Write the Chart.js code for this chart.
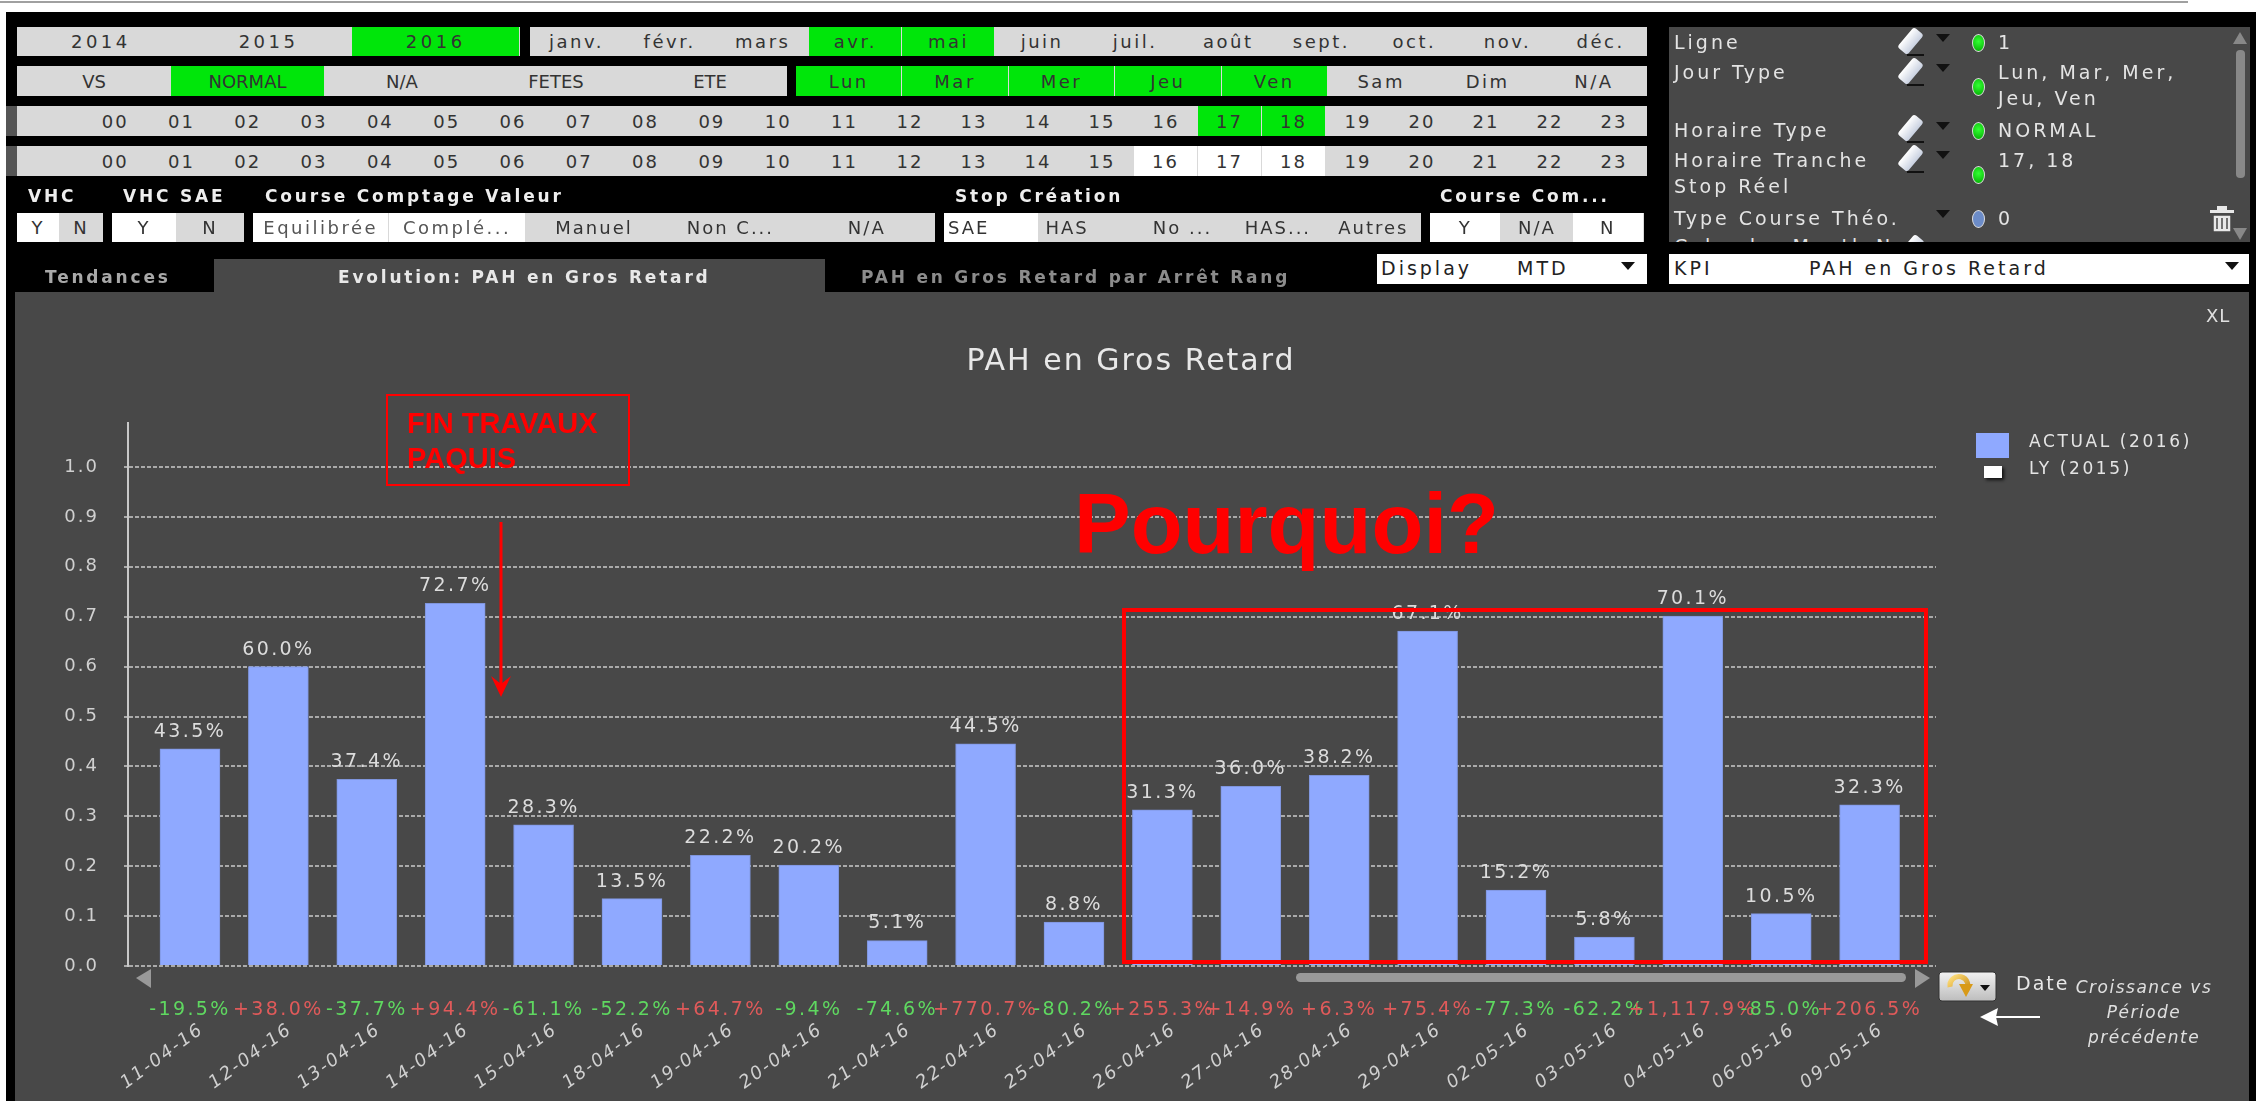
<!DOCTYPE html>
<html lang="fr">
<head>
<meta charset="utf-8">
<title>PAH en Gros Retard</title>
<style>
  html, body { margin: 0; padding: 0; background: #fff; }
  body { width: 2262px; height: 1101px; overflow: hidden; position: relative; font-family: "DejaVu Sans", sans-serif; filter: blur(0.5px); }
  #page { position: absolute; left: 6px; top: 12px; width: 2250px; height: 1089px; background: #000; }
  #topline { position: absolute; left: 0; top: 1px; width: 2188px; height: 2px; background: #a0a0a0; }
  #panel { position: absolute; left: 15px; top: 292px; width: 2234px; height: 809px; background: #484848; }
  #filters { position: absolute; left: 1669px; top: 27px; width: 581px; height: 215px; background: #484848; overflow: hidden; }
  #myChart { position: absolute; left: 0; top: 0; }
  .box { position: absolute; }
  .cell { position: absolute; display: flex; align-items: center; justify-content: center; color: #333; font-size: 18px; letter-spacing: 2px; white-space: nowrap; overflow: hidden; box-sizing: border-box; }
  .txt { position: absolute; white-space: nowrap; transform: translateY(-50%); letter-spacing: 3px; }
  svg { position: absolute; left: 0; top: 0; pointer-events: none; }
</style>
</head>
<body>
<div id="topline"></div>
<div id="page"></div>
<div id="panel"></div>
<div id="filters"></div>
<canvas id="myChart" width="2262" height="1101"></canvas>
<div id="controls"></div>
<svg width="2262" height="1101">
  <defs>
    <linearGradient id="gold" x1="0" y1="0" x2="1" y2="1"><stop offset="0" stop-color="#ffe080"/><stop offset="1" stop-color="#c88a10"/></linearGradient>
    <linearGradient id="btn" x1="0" y1="0" x2="0" y2="1"><stop offset="0" stop-color="#f2f2f2"/><stop offset="1" stop-color="#bdbdbd"/></linearGradient>
  </defs>
  <!-- annotations on top of the chart -->
  <rect x="387" y="395" width="242" height="90" fill="none" stroke="#f00" stroke-width="2"/>
  <line x1="501" y1="522" x2="501" y2="692" stroke="#f00" stroke-width="3"/>
  <path d="M491 676 L501 697 L511 676 L501 684 Z" fill="#f00"/>
  <rect x="1124" y="610" width="802" height="352" fill="none" stroke="#f00" stroke-width="4"/>
  <!-- date scrollbar -->
  <path d="M151 969 L136 978 L151 988 Z" fill="#999"/>
  <rect x="1296" y="973" width="610" height="9" rx="4.5" fill="#999"/>
  <path d="M1915 969 L1930 978 L1915 988 Z" fill="#999"/>
  <!-- refresh button -->
  <rect x="1939" y="972" width="57" height="29" rx="3" fill="url(#btn)" stroke="#333"/>
  <path d="M1950 987 a9 9 0 1 1 16 4" fill="none" stroke="url(#gold)" stroke-width="5"/>
  <path d="M1959 984 L1973 984 L1966 997 Z" fill="#d89a18"/>
  <path d="M1980 985 L1990 985 L1985 991 Z" fill="#111"/>
  <!-- white arrow to the growth row -->
  <line x1="1995" y1="1017" x2="2040" y2="1017" stroke="#fff" stroke-width="2"/>
  <path d="M1980 1017 L1998 1008 L1996 1017 L1998 1026 Z" fill="#fff"/>
  <!-- trash -->
  <rect x="2210" y="210" width="24" height="3" fill="#e8e8e8"/>
  <rect x="2217" y="206" width="10" height="4" fill="#e8e8e8"/>
  <path d="M2213 215 h18 v17 h-18 z M2217 218 v11 M2222 218 v11 M2227 218 v11" fill="#e8e8e8" stroke="#484848" stroke-width="1.5"/>
  <!-- filter scrollbar -->
  <path d="M2240 32 L2233 44 L2247 44 Z" fill="#888"/>
  <rect x="2236" y="50" width="9" height="128" rx="4" fill="#888"/>
  <path d="M2240 240 L2233 228 L2247 228 Z" fill="#888"/>
</svg>

<script src="https://cdn.jsdelivr.net/npm/chart.js@4"></script>
<script>
/* global Chart */
const dates = ['11-04-16', '12-04-16', '13-04-16', '14-04-16', '15-04-16', '18-04-16', '19-04-16',
  '20-04-16', '21-04-16', '22-04-16', '25-04-16', '26-04-16', '27-04-16', '28-04-16', '29-04-16',
  '02-05-16', '03-05-16', '04-05-16', '06-05-16', '09-05-16'];
const actualValues = [0.435, 0.600, 0.374, 0.727, 0.283, 0.135, 0.222, 0.202, 0.051, 0.445, 0.088,
  0.313, 0.360, 0.382, 0.671, 0.152, 0.058, 0.701, 0.105, 0.323];
const lyValues = [];
const growthLabels = ['-19.5%', '+38.0%', '-37.7%', '+94.4%', '-61.1%', '-52.2%', '+64.7%', '-9.4%',
  '-74.6%', '+770.7%', '-80.2%', '+255.3%', '+14.9%', '+6.3%', '+75.4%', '-77.3%', '-62.2%',
  '+1,117.9%', '-85.0%', '+206.5%'];

const years = ['2014', '2015', '2016'];
const months = ['janv.', 'févr.', 'mars', 'avr.', 'mai', 'juin', 'juil.', 'août', 'sept.', 'oct.', 'nov.', 'déc.'];
const dayTypes = ['VS', 'NORMAL', 'N/A', 'FETES', 'ETE'];
const weekDays = ['Lun', 'Mar', 'Mer', 'Jeu', 'Ven', 'Sam', 'Dim', 'N/A'];
const hours = ['00', '01', '02', '03', '04', '05', '06', '07', '08', '09', '10', '11',
  '12', '13', '14', '15', '16', '17', '18', '19', '20', '21', '22', '23'];
const courseValues = ['Equilibrée', 'Complé...', 'Manuel', 'Non C...', 'N/A'];
const stopValues = ['SAE', 'HAS', 'No ...', 'HAS...', 'Autres'];
const courseComValues = ['Y', 'N/A', 'N'];

const GREY = '#d9d9d9';
const GREEN = '#00e60a';
const WHITE = '#ffffff';
const AXISTOP = 423;
const AXISBOTTOM = 966;
const AXISLEFT = 128;
const AXISRIGHT = 1936;

const controls = document.getElementById('controls');

function addCell(label, x, y, w, h, bg, color) {
  const el = document.createElement('div');
  el.className = 'cell';
  el.style.cssText = `left:${x}px;top:${y}px;width:${w}px;height:${h}px;background:${bg};color:${color || '#333'}`;
  el.textContent = label;
  controls.appendChild(el);
  return el;
}

function addRow(labels, x, y, w, h, colorOf, spacing) {
  addCell('', x, y, labels.length * w, h, GREY);
  labels.forEach((label, i) => {
    const bg = colorOf(label, i);
    const el = addCell(label, x + i * w, y, w - (bg === GREY ? 0 : 1), h, bg);
    if (spacing !== undefined) el.style.letterSpacing = `${spacing}px`;
  });
}

function addText(text, x, y, color, opts = {}) {
  const el = document.createElement('div');
  el.className = 'txt';
  el.textContent = text;
  el.style.cssText = `left:${x}px;top:${y}px;color:${color};font-size:${opts.size || 19}px;`
    + `font-weight:${opts.bold ? 'bold' : 'normal'};font-style:${opts.italic ? 'italic' : 'normal'}`;
  if (opts.center) el.style.transform = 'translate(-50%,-50%)';
  if (opts.spacing !== undefined) el.style.letterSpacing = `${opts.spacing}px`;
  if (opts.family) el.style.fontFamily = opts.family;
  (opts.parent || controls).appendChild(el);
  return el;
}

function addHours(y, colorOf) {
  addCell('', 17, y, 1630, 30, GREY);
  addCell('', 6, y, 11, 30, '#555');
  hours.forEach((label, i) => {
    const x = i < 12 ? 82 + i * 66.3 : 878 + (i - 12) * 64;
    const w = i < 12 ? 66.3 : 64;
    const bg = colorOf(label);
    addCell(label, x, y, w - (bg === GREY ? 0 : 1), 30, bg);
  });
}

function addEraser(x, y, parent) {
  const el = document.createElement('div');
  el.className = 'box';
  el.style.cssText = `left:${x}px;top:${y - 12}px;width:13px;height:26px;border-radius:3px;transform:rotate(40deg);`
    + 'background:linear-gradient(90deg,#fff,#c8d0e0)';
  (parent || controls).appendChild(el);
  const base = document.createElement('div');
  base.className = 'box';
  base.style.cssText = `left:${x + 3}px;top:${y + 14}px;width:17px;height:2px;background:#111`;
  (parent || controls).appendChild(base);
}

function addCaret(x, y, color) {
  const el = document.createElement('div');
  el.className = 'box';
  el.style.cssText = `left:${x - 7}px;top:${y - 4}px;width:0;height:0;border-left:7px solid transparent;`
    + `border-right:7px solid transparent;border-top:8px solid ${color}`;
  controls.appendChild(el);
}

function addDot(y, color) {
  const el = document.createElement('div');
  el.className = 'box';
  el.style.cssText = `left:1972px;top:${y - 8}px;width:11px;height:16px;border-radius:50%;`
    + `background:radial-gradient(circle at 50% 40%,#3f3,${color});border:1px solid #ddd`;
  controls.appendChild(el);
}

// filter bars above the chart
addRow(years, 17, 27, 167.7, 29, (l) => (l === '2016' ? GREEN : GREY), 3.5);
addRow(months, 530, 27, 93.1, 29, (l) => (l === 'avr.' || l === 'mai' ? GREEN : GREY), 2.5);
addRow(dayTypes, 17, 66, 154, 30, (l) => (l === 'NORMAL' ? GREEN : GREY), 0);
addRow(weekDays, 796, 66, 106.4, 30, (l, i) => (i < 5 ? GREEN : GREY), 2.5);
addHours(106, (l) => (l === '17' || l === '18' ? GREEN : GREY));
addHours(146, (l) => (l === '16' || l === '17' || l === '18' ? WHITE : GREY));

const HEADING = { bold: true, size: 17, spacing: 2.8 };
addText('VHC', 28, 196, '#eee', HEADING);
addText('VHC SAE', 123, 196, '#eee', HEADING);
addText('Course Comptage Valeur', 265, 196, '#eee', HEADING);
addText('Stop Création', 955, 196, '#eee', HEADING);
addText('Course Com...', 1440, 196, '#eee', HEADING);

addCell('Y', 17, 213, 42, 29, WHITE);
addCell('N', 59, 213, 44, 29, GREY);
addCell('Y', 112, 213, 64, 29, WHITE);
addCell('N', 176, 213, 68, 29, GREY);
addRow(courseValues, 253, 213, 136.4, 29, (l, i) => (i < 2 ? WHITE : GREY));
addRow(stopValues, 944, 213, 95.4, 29, (l, i) => (i < 1 ? WHITE : GREY));
addRow(courseComValues, 1430, 213, 71.3, 29, (l) => (l === 'N/A' ? GREY : WHITE));
controls.querySelectorAll('.cell').forEach((c) => {
  if (c.textContent === 'Equilibrée' || c.textContent === 'Complé...') {
    c.style.letterSpacing = '2.5px';
    c.style.color = '#555';
  }
  if (c.textContent === 'SAE') {
    c.style.justifyContent = 'flex-start';
    c.style.paddingLeft = '4px';
  }
  if (c.textContent === 'HAS') {
    c.style.justifyContent = 'flex-start';
    c.style.paddingLeft = '6px';
  }
});

// tabs
addCell('', 214, 259, 611, 34, '#484848');
addText('Tendances', 45, 277, '#a8a8a8', HEADING);
addText('Evolution: PAH en Gros Retard', 338, 277, '#e8e8e8', HEADING);
addText('PAH en Gros Retard par Arrêt Rang', 861, 277, '#8c8c8c', HEADING);

// dropdowns
addCell('', 1377, 254, 270, 30, WHITE);
addText('Display', 1381, 268, '#222');
addText('MTD', 1517, 268, '#222');
addCaret(1628, 266, '#111');
addCell('', 1669, 254, 580, 30, WHITE);
addText('KPI', 1674, 268, '#222');
addText('PAH en Gros Retard', 1809, 268, '#222');
addCaret(2232, 266, '#111');

// filter summary list
const LISTTEXT = '#e4e4e4';
addText('Ligne', 1674, 42, LISTTEXT);
addText('Jour Type', 1674, 72, LISTTEXT);
addText('Horaire Type', 1674, 130, LISTTEXT);
addText('Horaire Tranche', 1674, 160, LISTTEXT);
addText('Stop Réel', 1674, 186, LISTTEXT);
addText('Type Course Théo.', 1674, 218, LISTTEXT);
addText('1', 1998, 42, LISTTEXT);
addText('Lun, Mar, Mer,', 1998, 72, LISTTEXT);
addText('Jeu, Ven', 1998, 98, LISTTEXT);
addText('NORMAL', 1998, 130, LISTTEXT);
addText('17, 18', 1998, 160, LISTTEXT);
addText('0', 1998, 218, LISTTEXT);
// last row is cut by the bottom of the list
const filtersBox = document.getElementById('filters');
addText('Calendar Month N', 5, 219, LISTTEXT, { parent: filtersBox });
addEraser(236, 220, filtersBox);
[40, 70, 127, 157].forEach((y) => addEraser(1904, y));
[38, 68, 126, 155, 214].forEach((y) => addCaret(1943, y, '#111'));
addDot(42, '#0a0');
addDot(86, '#0a0');
addDot(130, '#0a0');
addDot(174, '#0a0');
const blueDot = addText('', 0, 0, '#000');
blueDot.className = 'box';
blueDot.style.cssText = 'left:1972px;top:210px;width:11px;height:16px;border-radius:50%;background:#6c8cc8;border:1px solid #ddd';

// chart annotations and side notes
const RED_FONT = '"Liberation Sans", sans-serif';
addText('XL', 2206, 315, '#e0e0e0', { size: 18, spacing: 1 });
addText('FIN TRAVAUX', 407, 423, '#f00', { size: 29, bold: true, spacing: 0, family: RED_FONT });
addText('PAQUIS', 407, 458, '#f00', { size: 29, bold: true, spacing: 0, family: RED_FONT });
addText('Pourquoi?', 1074, 524, '#f00', { size: 85, bold: true, spacing: 0, family: RED_FONT });
addText('Date', 2016, 983, '#e8e8e8', { spacing: 2 });
const NOTE = { italic: true, size: 17, center: true, spacing: 1.5 };
addText('Croissance vs', 2144, 987, '#e0e0e0', NOTE);
addText('Période', 2144, 1012, '#e0e0e0', NOTE);
addText('précédente', 2144, 1037, '#e0e0e0', NOTE);

// wide spacing for every text the chart itself draws
const textSpacing = {
  id: 'textSpacing',
  beforeDraw(chart) {
    chart.ctx.letterSpacing = '2px';
  },
};

// value labels, growth row and legend are drawn from the chart's own metadata
const barAnnotations = {
  id: 'barAnnotations',
  afterDatasetsDraw(chart) {
    const { ctx } = chart;
    const bars = chart.getDatasetMeta(0).data;
    ctx.save();
    ctx.textAlign = 'center';
    ctx.textBaseline = 'middle';
    bars.forEach((bar, i) => {
      ctx.font = '19px "DejaVu Sans"';
      ctx.letterSpacing = '2.4px';
      ctx.fillStyle = '#dcdcdc';
      ctx.fillText(`${(actualValues[i] * 100).toFixed(1)}%`, bar.x, bar.y - 17);
      ctx.fillStyle = growthLabels[i].startsWith('+') ? '#e05a5a' : '#5fd860';
      ctx.fillText(growthLabels[i], bar.x, 1010);
    });
    ctx.restore();
  },
};

const legendBlocks = {
  id: 'legendBlocks',
  afterDraw(chart) {
    const { ctx } = chart;
    const sets = chart.data.datasets;
    ctx.save();
    ctx.textBaseline = 'middle';
    ctx.font = '17px "DejaVu Sans"';
    ctx.letterSpacing = '2.6px';
    ctx.fillStyle = sets[0].backgroundColor;
    ctx.fillRect(1976, 433, 33, 25);
    ctx.fillStyle = '#e4e4e4';
    ctx.fillText(sets[0].label, 2029, 443);
    ctx.fillText(sets[1].label, 2029, 470);
    ctx.shadowColor = '#111';
    ctx.shadowBlur = 3;
    ctx.shadowOffsetX = 2;
    ctx.shadowOffsetY = 2;
    ctx.fillStyle = sets[1].backgroundColor;
    ctx.fillRect(1984, 466, 18, 12);
    ctx.restore();
  },
};

const chart = new Chart(document.getElementById('myChart').getContext('2d'), {
  type: 'bar',
  data: {
    labels: dates,
    datasets: [{
      label: 'ACTUAL (2016)',
      data: actualValues.map((v, i) => ({ x: i, y: v })),
      backgroundColor: '#8fa9ff',
      borderColor: '#7f95dc',
      borderWidth: 1,
      barThickness: 60,
      grouped: false,
    }, {
      label: 'LY (2015)',
      data: lyValues,
      backgroundColor: '#ffffff',
      grouped: false,
    }],
  },
  plugins: [textSpacing, barAnnotations, legendBlocks],
  options: {
    responsive: false,
    animation: false,
    layout: { padding: 0 },
    plugins: {
      legend: { display: false },
      tooltip: { enabled: false },
      title: {
        display: true,
        text: 'PAH en Gros Retard',
        color: '#e8e8e8',
        font: { family: '"DejaVu Sans"', size: 30, weight: 'normal', lineHeight: 1.2 },
        padding: { top: 344, bottom: AXISTOP - 344 - 36 },
      },
    },
    scales: {
      x: {
        type: 'linear',
        offset: false,
        min: -0.701,
        max: 19.751,
        grid: { display: false },
        border: { display: false },
        afterFit: (s) => { s.height = 1101 - AXISBOTTOM; },
        afterBuildTicks: (s) => { s.ticks = dates.map((d, i) => ({ value: i })); },
        ticks: {
          autoSkip: false,
          minRotation: 36,
          maxRotation: 36,
          padding: 45,
          labelOffset: 12,
          color: '#d0d0d0',
          font: { family: '"DejaVu Sans"', size: 18, style: 'italic' },
          callback: (v) => dates[v],
        },
      },
      y: {
        min: 0,
        max: (AXISBOTTOM - AXISTOP) / 499,
        afterFit: (s) => { s.width = AXISLEFT; },
        border: { display: true, color: '#c8c8c8', width: 2, dash: [4, 2] },
        grid: {
          color: '#aaaaaa',
          lineWidth: 2,
          tickLength: 4,
          tickColor: '#aaaaaa',
        },
        ticks: {
          stepSize: 0.1,
          includeBounds: false,
          padding: 25,
          color: '#d0d0d0',
          font: { family: '"DejaVu Sans"', size: 18 },
          callback: (v) => v.toFixed(1),
        },
      },
      // empty axis that only reserves the legend column
      legendGap: {
        type: 'linear',
        position: 'right',
        display: true,
        grid: { display: false, drawOnChartArea: false },
        border: { display: false },
        ticks: { display: false },
        afterFit: (s) => { s.width = 2262 - AXISRIGHT; },
      },
    },
  },
});
</script>
</body>
</html>
